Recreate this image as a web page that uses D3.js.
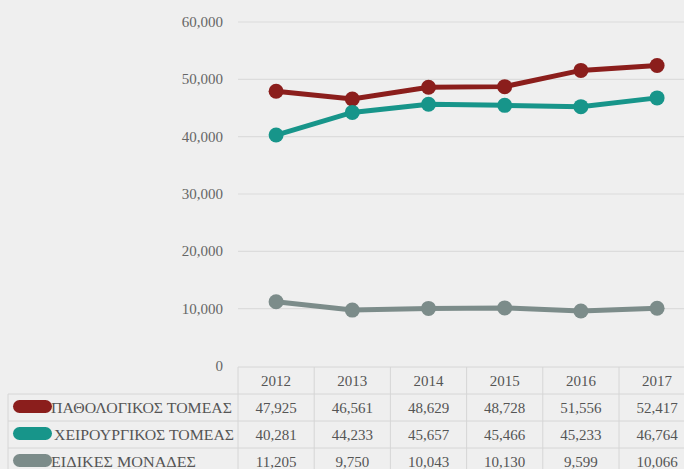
<!DOCTYPE html>
<html>
<head>
<meta charset="utf-8">
<script src="https://cdn.jsdelivr.net/npm/d3@7"></script>
<style>
body { margin:0; background:#efefef; }
svg { display:block; }
</style>
</head>
<body>
<div id="chart"></div>
<script>
var years = ["2012", "2013", "2014", "2015", "2016", "2017"];
var names = ["ΠΑΘΟΛΟΓΙΚΟΣ ΤΟΜΕΑΣ", "ΧΕΙΡΟΥΡΓΙΚΟΣ ΤΟΜΕΑΣ", "ΕΙΔΙΚΕΣ ΜΟΝΑΔΕΣ"];
var pathologikos = [47925, 46561, 48629, 48728, 51556, 52417];
var xeirourgikos = [40281, 44233, 45657, 45466, 45233, 46764];
var eidikes = [11205, 9750, 10043, 10130, 9599, 10066];
var yTicks = [0, 10000, 20000, 30000, 40000, 50000, 60000];
var colors = ["#8b1e1c", "#17958a", "#7c8c8a"];
var FONT = "Liberation Serif";

var width = 684, height = 469;
var svg = d3.select("#chart").append("svg")
    .attr("width", width)
    .attr("height", height);

svg.append("rect").attr("width", width).attr("height", height).attr("fill", "#efefef");

var series = [pathologikos, xeirourgikos, eidikes];

var colLeft = 238, colW = 76.2;
var x = d3.scaleBand().domain(years).range([colLeft, colLeft + colW * years.length]);
var y = d3.scaleLinear().domain([0, 60000]).range([366, 22]);

// gridlines
svg.selectAll(".grid")
    .data(yTicks.filter(function(d) { return d > 0; }))
    .enter()
    .append("line")
    .attr("x1", colLeft)
    .attr("x2", width)
    .attr("y1", function(d) { return y(d); })
    .attr("y2", function(d) { return y(d); })
    .attr("stroke", "#dcdcdc")
    .attr("stroke-width", 1.2);

// y axis labels
var fmt = d3.format(",");
svg.selectAll(".ylab")
    .data(yTicks)
    .enter()
    .append("text")
    .attr("x", 223)
    .attr("y", function(d) { return y(d) + 5; })
    .attr("text-anchor", "end")
    .attr("font-family", FONT)
    .attr("font-size", 15)
    .attr("fill", "#666")
    .text(function(d) { return fmt(d); });

// lines
var line = d3.line()
    .x(function(d, i) { return x(years[i]) + x.bandwidth() / 2; })
    .y(function(d) { return y(d); });

series.forEach(function(s, k) {
    svg.append("path")
        .datum(s)
        .attr("d", line)
        .attr("fill", "none")
        .attr("stroke", colors[k])
        .attr("stroke-width", 5);
    svg.selectAll(".dot" + k)
        .data(s)
        .enter()
        .append("circle")
        .attr("cx", function(d, i) { return x(years[i]) + x.bandwidth() / 2; })
        .attr("cy", function(d) { return y(d); })
        .attr("r", 7.5)
        .attr("fill", colors[k]);
});

// data table
var rowTop = 367, rowH = 27, labelLeft = 8;
var tableRight = colLeft + colW * years.length;
var gridCol = "#d6d6d6";

for (var r = 0; r <= 4; r++) {
    svg.append("line")
        .attr("x1", r == 0 ? colLeft : labelLeft)
        .attr("x2", tableRight)
        .attr("y1", rowTop + rowH * r)
        .attr("y2", rowTop + rowH * r)
        .attr("stroke", gridCol);
}
years.forEach(function(yr, i) {
    svg.append("line")
        .attr("x1", x(yr)).attr("x2", x(yr))
        .attr("y1", rowTop).attr("y2", height)
        .attr("stroke", gridCol);
});
svg.append("line")
    .attr("x1", labelLeft).attr("x2", labelLeft)
    .attr("y1", rowTop + rowH).attr("y2", height)
    .attr("stroke", gridCol);

// header
svg.selectAll(".yr")
    .data(years)
    .enter()
    .append("text")
    .attr("x", function(d) { return x(d) + x.bandwidth() / 2; })
    .attr("y", rowTop + 19)
    .attr("text-anchor", "middle")
    .attr("font-family", FONT)
    .attr("font-size", 15)
    .attr("fill", "#555")
    .text(function(d) { return d; });

var labelX = [51, 54, 51];
var labelLen = [181, 180, 145];
series.forEach(function(s, k) {
    var ty = rowTop + rowH * (k + 1) + 19;
    svg.append("rect")
        .attr("x", 13)
        .attr("y", ty - 13)
        .attr("width", 39)
        .attr("height", 13)
        .attr("rx", 6.5)
        .attr("fill", colors[k]);
    svg.append("text")
        .attr("x", labelX[k])
        .attr("y", ty)
        .attr("textLength", labelLen[k])
        .attr("lengthAdjust", "spacingAndGlyphs")
        .attr("font-family", FONT)
        .attr("font-size", 15)
        .attr("fill", "#555")
        .text(names[k]);
    svg.selectAll(".val" + k)
        .data(s)
        .enter()
        .append("text")
        .attr("x", function(d, i) { return x(years[i]) + x.bandwidth() / 2; })
        .attr("y", ty)
        .attr("text-anchor", "middle")
        .attr("font-family", FONT)
        .attr("font-size", 15)
        .attr("fill", "#555")
        .text(function(d) { return fmt(d); });
});
</script>
</body>
</html>
